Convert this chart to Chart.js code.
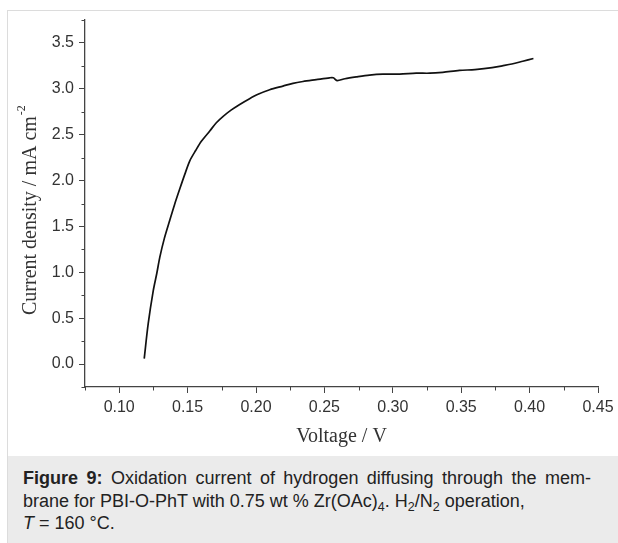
<!DOCTYPE html>
<html>
<head>
<meta charset="utf-8">
<script src="https://cdn.jsdelivr.net/npm/chart.js@4.4.1/dist/chart.umd.min.js"></script>
<style>
  body { margin: 0; background: #fff; width: 618px; height: 543px; overflow: hidden; }
  #frame { position: absolute; left: 7px; top: 10px; width: 620px; height: 540px;
           border-left: 1px solid #dcdcdc; border-top: 1px solid #dcdcdc; }
  #plot { position: absolute; left: 0; top: 0; width: 610px; height: 445px; }
  #caption { position: absolute; left: 0; top: 445px; width: 610px; height: 95px;
             background: #ebebeb; box-sizing: border-box; padding: 11px 0 0 15px;
             font-family: "Liberation Sans", Arial, sans-serif; font-size: 18px;
             line-height: 22.5px; color: #222; }
  #caption div { width: 568px; white-space: nowrap; }
  #caption .full { text-align: justify; text-align-last: justify; white-space: normal; }
  #caption sub { font-size: 12.5px; line-height: 0; vertical-align: -4px; }
</style>
</head>
<body>
<div id="frame">
  <div id="plot"><canvas id="chart" width="610" height="445"></canvas></div>
  <div id="caption">
    <div class="full"><b>Figure 9:</b> Oxidation current of hydrogen diffusing through the mem-</div>
    <div>brane for PBI-O-PhT with 0.75 wt % Zr(OAc)<sub>4</sub>. H<sub>2</sub>/N<sub>2</sub> operation,</div>
    <div><i>T</i> = 160 °C.</div>
  </div>
</div>
<script>
// values
const voltage = [0.1183, 0.1212, 0.1249, 0.1275, 0.1297, 0.1330, 0.1365, 0.1405, 0.1443, 0.1480,
                 0.1516, 0.1560, 0.1602, 0.1662, 0.1710, 0.1760, 0.1820, 0.1881, 0.1950, 0.2015,
                 0.2100, 0.2197, 0.2270, 0.2343, 0.2440, 0.2538, 0.2565, 0.2592, 0.2650, 0.2733,
                 0.2830, 0.2928, 0.3050, 0.3171, 0.3270, 0.3365, 0.3487, 0.3600, 0.3726, 0.3800,
                 0.3870, 0.3950, 0.4028];
const current = [0.06, 0.44, 0.80, 0.99, 1.165, 1.37, 1.545, 1.74, 1.91, 2.07,
                 2.215, 2.33, 2.43, 2.54, 2.63, 2.70, 2.77, 2.83, 2.89, 2.94,
                 2.99, 3.03, 3.06, 3.08, 3.10, 3.12, 3.12, 3.09, 3.11, 3.13,
                 3.15, 3.16, 3.16, 3.17, 3.17, 3.18, 3.20, 3.21, 3.23, 3.25,
                 3.27, 3.30, 3.33];

const xTicks = [0.10, 0.15, 0.20, 0.25, 0.30, 0.35, 0.40, 0.45];
const xMinor = [0.075, 0.125, 0.175, 0.225, 0.275, 0.325, 0.375, 0.425];
const yTicks = [0.0, 0.5, 1.0, 1.5, 2.0, 2.5, 3.0, 3.5];
const yMinor = [-0.25, 0.25, 0.75, 1.25, 1.75, 2.25, 2.75, 3.25, 3.75];

const axisColor = '#444';
const textColor = '#333';
const serif = '"Liberation Serif", "Times New Roman", serif';

// minor ticks + axis titles (y title needs a superscript)
const extras = {
    id: 'extras',
    afterDraw(chart) {
        const ctx = chart.ctx;
        const xs = chart.scales.x, ys = chart.scales.y;
        const area = chart.chartArea;
        ctx.save();
        ctx.strokeStyle = axisColor;
        ctx.lineWidth = 1;
        xMinor.forEach(v => {
            const px = Math.round(xs.getPixelForValue(v)) + 0.5;
            ctx.beginPath(); ctx.moveTo(px, area.bottom); ctx.lineTo(px, area.bottom + 3.5); ctx.stroke();
        });
        yMinor.forEach(v => {
            const py = Math.round(ys.getPixelForValue(v)) + 0.5;
            ctx.beginPath(); ctx.moveTo(area.left, py); ctx.lineTo(area.left - 3.5, py); ctx.stroke();
        });

        ctx.fillStyle = textColor;
        ctx.font = '20px ' + serif;
        ctx.textAlign = 'center';
        ctx.textBaseline = 'middle';
        ctx.fillText('Voltage / V', (area.left + area.right) / 2, 426);

        const main = 'Current density / mA cm';
        const wMain = ctx.measureText(main).width;
        ctx.translate(23, 304);
        ctx.rotate(-Math.PI / 2);
        ctx.textAlign = 'left';
        ctx.fillText(main, 0, 0);
        ctx.font = '12px ' + serif;
        ctx.fillText('-2', wMain + 1, -9);
        ctx.restore();
    }
};

const points = voltage.map((v, i) => ({ x: v, y: current[i] }));

new Chart(document.getElementById('chart').getContext('2d'), {
    type: 'scatter',
    data: {
        datasets: [{
            data: points,
            showLine: true,
            borderColor: '#111',
            borderWidth: 1.7,
            pointRadius: 0,
            tension: 0.3
        }]
    },
    options: {
        responsive: false,
        animation: false,
        layout: { padding: { top: 9, right: 20, left: 0, bottom: 0 } },
        plugins: { legend: { display: false }, tooltip: { enabled: false } },
        scales: {
            x: {
                type: 'linear',
                min: 0.075,
                max: 0.45,
                afterBuildTicks: scale => { scale.ticks = xTicks.map(v => ({ value: v })); },
                afterFit: scale => { scale.height = 69; scale.paddingLeft = 0; scale.paddingRight = 0; },
                border: { color: axisColor, width: 1.3 },
                grid: { drawOnChartArea: false, tickLength: 6, tickColor: axisColor, tickWidth: 1 },
                ticks: {
                    color: textColor,
                    padding: 5,
                    maxRotation: 0,
                    font: { family: '"Liberation Sans", Arial, sans-serif', size: 16 },
                    callback: v => v.toFixed(2)
                }
            },
            y: {
                type: 'linear',
                min: -0.25,
                max: 3.75,
                afterBuildTicks: scale => { scale.ticks = yTicks.map(v => ({ value: v })); },
                afterFit: scale => { scale.width = 77; scale.paddingTop = 0; scale.paddingBottom = 0; },
                border: { color: axisColor, width: 1.3 },
                grid: { drawOnChartArea: false, tickLength: 6, tickColor: axisColor, tickWidth: 1 },
                ticks: {
                    color: textColor,
                    padding: 5,
                    font: { family: '"Liberation Sans", Arial, sans-serif', size: 16 },
                    callback: v => v.toFixed(1)
                }
            }
        }
    },
    plugins: [extras]
});
</script>
</body>
</html>
